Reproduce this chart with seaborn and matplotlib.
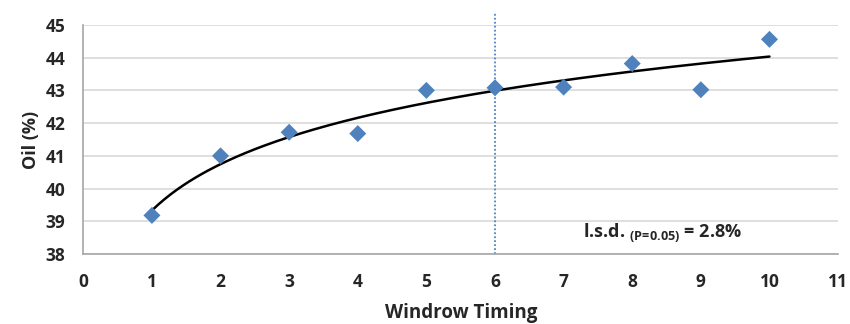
import numpy as np
import pandas as pd
import matplotlib
matplotlib.use("Agg")
import matplotlib.pyplot as plt
import seaborn as sns

# data
timing = [1, 2, 3, 4, 5, 6, 7, 8, 9, 10]
oil = [39.18, 41.0, 41.72, 41.68, 43.0, 43.08, 43.1, 43.82, 43.02, 44.56]
cutoff_timing = 6
lsd_text = "2.8%"

df = pd.DataFrame({"timing": timing, "oil": oil})

# logarithmic trendline, as in the spreadsheet
a, b = np.polyfit(np.log(df["timing"]), df["oil"], 1)
xs = np.linspace(min(timing), max(timing), 200)
trend = pd.DataFrame({"timing": xs, "oil": a * np.log(xs) + b})

sns.set_style("white")
plt.rcParams["font.family"] = ["Open Sans", "DejaVu Sans"]
plt.rcParams["mathtext.fontset"] = "custom"
plt.rcParams["mathtext.bf"] = "Open Sans:bold"
plt.rcParams["mathtext.rm"] = "Open Sans"

fig, ax = plt.subplots(figsize=(8.5, 3.24), dpi=100)
fig.subplots_adjust(left=0.098, right=0.986, top=0.923, bottom=0.216)

ax.yaxis.grid(True, color="#d9d9d9", linewidth=1.2)
ax.set_axisbelow(True)

sns.lineplot(data=trend, x="timing", y="oil", color="black", linewidth=1.8, ax=ax, zorder=3)
sns.scatterplot(data=df, x="timing", y="oil", marker="D", s=75, color="#4F81BD",
                edgecolor="none", ax=ax, zorder=4)
ax.axvline(cutoff_timing, ymin=0, ymax=1.057, color="#4F81BD", linestyle=(0, (1, 1.2)),
           linewidth=1.3, clip_on=False, zorder=2)

ax.set_xlim(0, 11)
ax.set_ylim(38, 45)
ax.set_xticks(range(0, 12))
ax.set_yticks(range(38, 46))

for side in ["top", "right"]:
    ax.spines[side].set_visible(False)
for side in ["left", "bottom"]:
    ax.spines[side].set_color("#a6a6a6")
    ax.spines[side].set_linewidth(1.2)
ax.tick_params(axis="both", direction="out", length=4, width=1.2, color="#a6a6a6",
               labelsize=12.5)
ax.tick_params(axis="x", pad=10)
ax.tick_params(axis="y", pad=9)
for lab in ax.get_xticklabels() + ax.get_yticklabels():
    lab.set_fontweight("bold")

ax.set_xlabel("Windrow Timing", fontsize=13.5, fontweight="bold", labelpad=8)
ax.set_ylabel("Oil (%)", fontsize=13, fontweight="bold", labelpad=4)

ax.text(7.28, 38.67, r"l.s.d. $_{\mathbf{(P\!=\!0.05)}}$ = " + lsd_text, fontsize=13,
        fontweight="bold", va="center", ha="left")

fig.savefig("out.png", dpi=100)
